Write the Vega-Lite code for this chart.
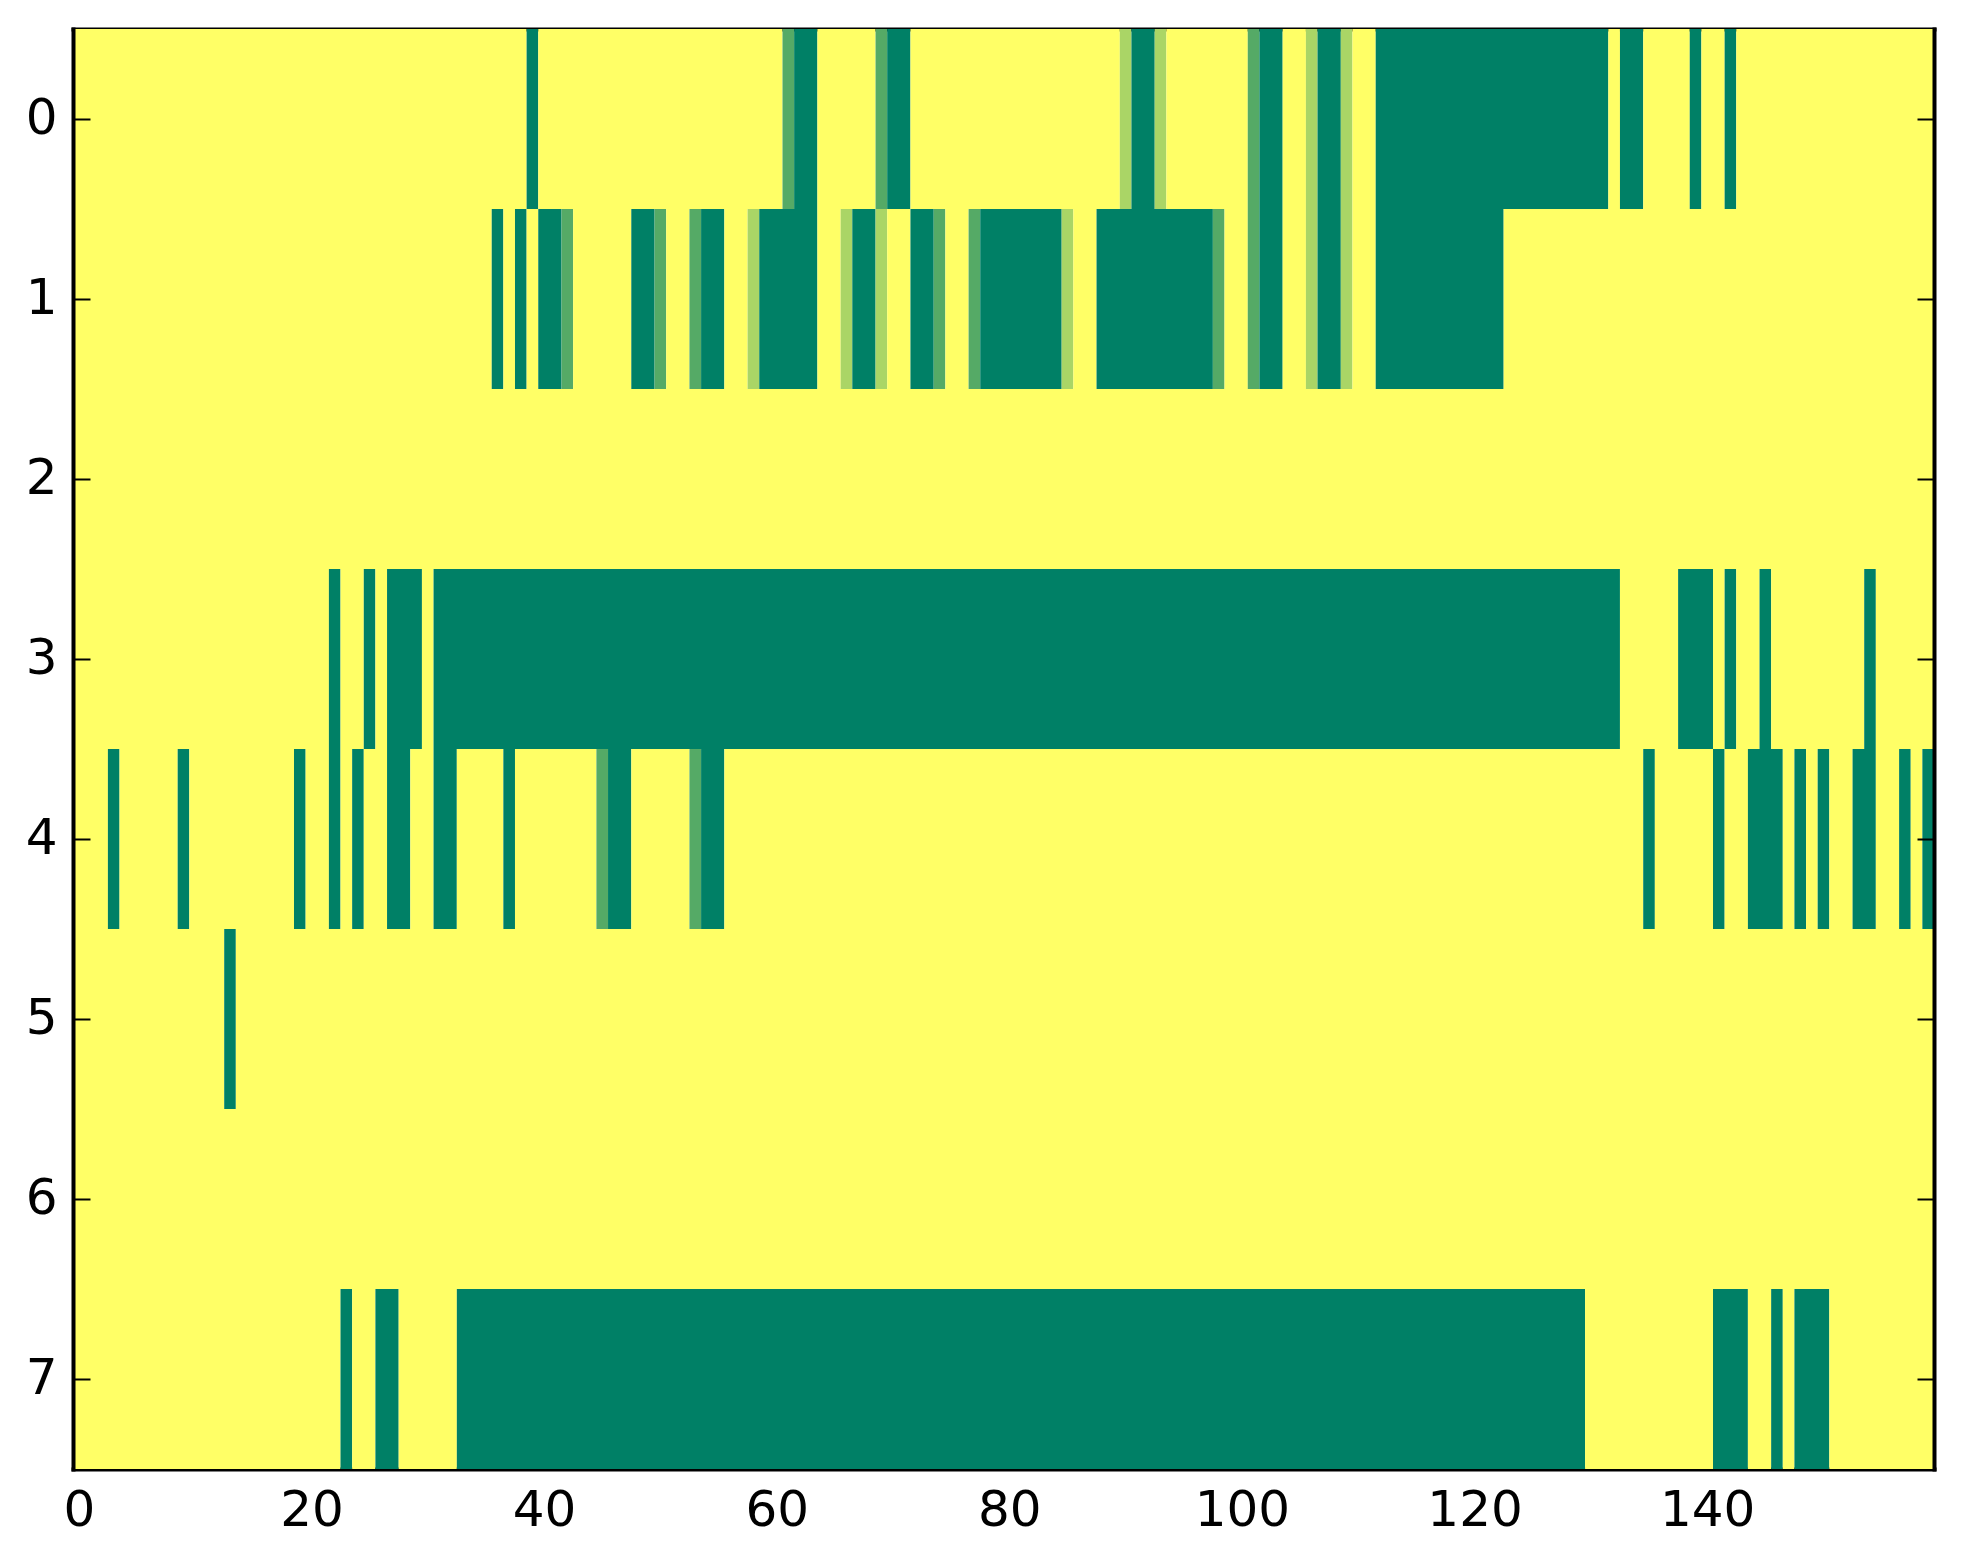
{
  "$schema": "https://vega.github.io/schema/vega-lite/v6.json",
  "width": 1861,
  "height": 1440,
  "autosize": {"type": "none"},
  "padding": {"left": 73, "top": 29, "right": 29, "bottom": 95},
  "background": "white",
  "config": {
    "view": {"stroke": null},
    "axis": {
      "domainColor": "black",
      "domainWidth": 4,
      "domainCap": "square",
      "tickColor": "black",
      "tickWidth": 2,
      "tickSize": -17,
      "labelFont": "DejaVu Sans",
      "labelFontSize": 50,
      "labelColor": "black",
      "labelPadding": 33,
      "labelFlush": false,
      "labelOverlap": false,
      "grid": false
    }
  },
  "data": {
    "values": [
      {"row": 0, "x0": -0.5, "x1": 38.5, "value": 1},
      {"row": 0, "x0": 38.5, "x1": 39.5, "value": 0},
      {"row": 0, "x0": 39.5, "x1": 60.5, "value": 1},
      {"row": 0, "x0": 60.5, "x1": 61.5, "value": 0.333},
      {"row": 0, "x0": 61.5, "x1": 63.5, "value": 0},
      {"row": 0, "x0": 63.5, "x1": 68.5, "value": 1},
      {"row": 0, "x0": 68.5, "x1": 69.5, "value": 0.333},
      {"row": 0, "x0": 69.5, "x1": 71.5, "value": 0},
      {"row": 0, "x0": 71.5, "x1": 89.5, "value": 1},
      {"row": 0, "x0": 89.5, "x1": 90.5, "value": 0.667},
      {"row": 0, "x0": 90.5, "x1": 92.5, "value": 0},
      {"row": 0, "x0": 92.5, "x1": 93.5, "value": 0.667},
      {"row": 0, "x0": 93.5, "x1": 100.5, "value": 1},
      {"row": 0, "x0": 100.5, "x1": 101.5, "value": 0.333},
      {"row": 0, "x0": 101.5, "x1": 103.5, "value": 0},
      {"row": 0, "x0": 103.5, "x1": 105.5, "value": 1},
      {"row": 0, "x0": 105.5, "x1": 106.5, "value": 0.667},
      {"row": 0, "x0": 106.5, "x1": 108.5, "value": 0},
      {"row": 0, "x0": 108.5, "x1": 109.5, "value": 0.667},
      {"row": 0, "x0": 109.5, "x1": 111.5, "value": 1},
      {"row": 0, "x0": 111.5, "x1": 131.5, "value": 0},
      {"row": 0, "x0": 131.5, "x1": 132.5, "value": 1},
      {"row": 0, "x0": 132.5, "x1": 134.5, "value": 0},
      {"row": 0, "x0": 134.5, "x1": 138.5, "value": 1},
      {"row": 0, "x0": 138.5, "x1": 139.5, "value": 0},
      {"row": 0, "x0": 139.5, "x1": 141.5, "value": 1},
      {"row": 0, "x0": 141.5, "x1": 142.5, "value": 0},
      {"row": 0, "x0": 142.5, "x1": 159.5, "value": 1},

      {"row": 1, "x0": -0.5, "x1": 35.5, "value": 1},
      {"row": 1, "x0": 35.5, "x1": 36.5, "value": 0},
      {"row": 1, "x0": 36.5, "x1": 37.5, "value": 1},
      {"row": 1, "x0": 37.5, "x1": 38.5, "value": 0},
      {"row": 1, "x0": 38.5, "x1": 39.5, "value": 1},
      {"row": 1, "x0": 39.5, "x1": 41.5, "value": 0},
      {"row": 1, "x0": 41.5, "x1": 42.5, "value": 0.333},
      {"row": 1, "x0": 42.5, "x1": 47.5, "value": 1},
      {"row": 1, "x0": 47.5, "x1": 49.5, "value": 0},
      {"row": 1, "x0": 49.5, "x1": 50.5, "value": 0.333},
      {"row": 1, "x0": 50.5, "x1": 52.5, "value": 1},
      {"row": 1, "x0": 52.5, "x1": 53.5, "value": 0.333},
      {"row": 1, "x0": 53.5, "x1": 55.5, "value": 0},
      {"row": 1, "x0": 55.5, "x1": 57.5, "value": 1},
      {"row": 1, "x0": 57.5, "x1": 58.5, "value": 0.667},
      {"row": 1, "x0": 58.5, "x1": 63.5, "value": 0},
      {"row": 1, "x0": 63.5, "x1": 65.5, "value": 1},
      {"row": 1, "x0": 65.5, "x1": 66.5, "value": 0.667},
      {"row": 1, "x0": 66.5, "x1": 68.5, "value": 0},
      {"row": 1, "x0": 68.5, "x1": 69.5, "value": 0.667},
      {"row": 1, "x0": 69.5, "x1": 71.5, "value": 1},
      {"row": 1, "x0": 71.5, "x1": 73.5, "value": 0},
      {"row": 1, "x0": 73.5, "x1": 74.5, "value": 0.333},
      {"row": 1, "x0": 74.5, "x1": 76.5, "value": 1},
      {"row": 1, "x0": 76.5, "x1": 77.5, "value": 0.333},
      {"row": 1, "x0": 77.5, "x1": 84.5, "value": 0},
      {"row": 1, "x0": 84.5, "x1": 85.5, "value": 0.667},
      {"row": 1, "x0": 85.5, "x1": 87.5, "value": 1},
      {"row": 1, "x0": 87.5, "x1": 97.5, "value": 0},
      {"row": 1, "x0": 97.5, "x1": 98.5, "value": 0.333},
      {"row": 1, "x0": 98.5, "x1": 100.5, "value": 1},
      {"row": 1, "x0": 100.5, "x1": 101.5, "value": 0.333},
      {"row": 1, "x0": 101.5, "x1": 103.5, "value": 0},
      {"row": 1, "x0": 103.5, "x1": 105.5, "value": 1},
      {"row": 1, "x0": 105.5, "x1": 106.5, "value": 0.667},
      {"row": 1, "x0": 106.5, "x1": 108.5, "value": 0},
      {"row": 1, "x0": 108.5, "x1": 109.5, "value": 0.667},
      {"row": 1, "x0": 109.5, "x1": 111.5, "value": 1},
      {"row": 1, "x0": 111.5, "x1": 122.5, "value": 0},
      {"row": 1, "x0": 122.5, "x1": 159.5, "value": 1},

      {"row": 2, "x0": -0.5, "x1": 159.5, "value": 1},

      {"row": 3, "x0": -0.5, "x1": 21.5, "value": 1},
      {"row": 3, "x0": 21.5, "x1": 22.5, "value": 0},
      {"row": 3, "x0": 22.5, "x1": 24.5, "value": 1},
      {"row": 3, "x0": 24.5, "x1": 25.5, "value": 0},
      {"row": 3, "x0": 25.5, "x1": 26.5, "value": 1},
      {"row": 3, "x0": 26.5, "x1": 29.5, "value": 0},
      {"row": 3, "x0": 29.5, "x1": 30.5, "value": 1},
      {"row": 3, "x0": 30.5, "x1": 132.5, "value": 0},
      {"row": 3, "x0": 132.5, "x1": 137.5, "value": 1},
      {"row": 3, "x0": 137.5, "x1": 140.5, "value": 0},
      {"row": 3, "x0": 140.5, "x1": 141.5, "value": 1},
      {"row": 3, "x0": 141.5, "x1": 142.5, "value": 0},
      {"row": 3, "x0": 142.5, "x1": 144.5, "value": 1},
      {"row": 3, "x0": 144.5, "x1": 145.5, "value": 0},
      {"row": 3, "x0": 145.5, "x1": 153.5, "value": 1},
      {"row": 3, "x0": 153.5, "x1": 154.5, "value": 0},
      {"row": 3, "x0": 154.5, "x1": 159.5, "value": 1},

      {"row": 4, "x0": -0.5, "x1": 2.5, "value": 1},
      {"row": 4, "x0": 2.5, "x1": 3.5, "value": 0},
      {"row": 4, "x0": 3.5, "x1": 8.5, "value": 1},
      {"row": 4, "x0": 8.5, "x1": 9.5, "value": 0},
      {"row": 4, "x0": 9.5, "x1": 18.5, "value": 1},
      {"row": 4, "x0": 18.5, "x1": 19.5, "value": 0},
      {"row": 4, "x0": 19.5, "x1": 21.5, "value": 1},
      {"row": 4, "x0": 21.5, "x1": 22.5, "value": 0},
      {"row": 4, "x0": 22.5, "x1": 23.5, "value": 1},
      {"row": 4, "x0": 23.5, "x1": 24.5, "value": 0},
      {"row": 4, "x0": 24.5, "x1": 26.5, "value": 1},
      {"row": 4, "x0": 26.5, "x1": 28.5, "value": 0},
      {"row": 4, "x0": 28.5, "x1": 30.5, "value": 1},
      {"row": 4, "x0": 30.5, "x1": 32.5, "value": 0},
      {"row": 4, "x0": 32.5, "x1": 36.5, "value": 1},
      {"row": 4, "x0": 36.5, "x1": 37.5, "value": 0},
      {"row": 4, "x0": 37.5, "x1": 44.5, "value": 1},
      {"row": 4, "x0": 44.5, "x1": 45.5, "value": 0.333},
      {"row": 4, "x0": 45.5, "x1": 47.5, "value": 0},
      {"row": 4, "x0": 47.5, "x1": 52.5, "value": 1},
      {"row": 4, "x0": 52.5, "x1": 53.5, "value": 0.333},
      {"row": 4, "x0": 53.5, "x1": 55.5, "value": 0},
      {"row": 4, "x0": 55.5, "x1": 134.5, "value": 1},
      {"row": 4, "x0": 134.5, "x1": 135.5, "value": 0},
      {"row": 4, "x0": 135.5, "x1": 140.5, "value": 1},
      {"row": 4, "x0": 140.5, "x1": 141.5, "value": 0},
      {"row": 4, "x0": 141.5, "x1": 143.5, "value": 1},
      {"row": 4, "x0": 143.5, "x1": 146.5, "value": 0},
      {"row": 4, "x0": 146.5, "x1": 147.5, "value": 1},
      {"row": 4, "x0": 147.5, "x1": 148.5, "value": 0},
      {"row": 4, "x0": 148.5, "x1": 149.5, "value": 1},
      {"row": 4, "x0": 149.5, "x1": 150.5, "value": 0},
      {"row": 4, "x0": 150.5, "x1": 152.5, "value": 1},
      {"row": 4, "x0": 152.5, "x1": 154.5, "value": 0},
      {"row": 4, "x0": 154.5, "x1": 156.5, "value": 1},
      {"row": 4, "x0": 156.5, "x1": 157.5, "value": 0},
      {"row": 4, "x0": 157.5, "x1": 158.5, "value": 1},
      {"row": 4, "x0": 158.5, "x1": 159.5, "value": 0},

      {"row": 5, "x0": -0.5, "x1": 12.5, "value": 1},
      {"row": 5, "x0": 12.5, "x1": 13.5, "value": 0},
      {"row": 5, "x0": 13.5, "x1": 159.5, "value": 1},

      {"row": 6, "x0": -0.5, "x1": 159.5, "value": 1},

      {"row": 7, "x0": -0.5, "x1": 22.5, "value": 1},
      {"row": 7, "x0": 22.5, "x1": 23.5, "value": 0},
      {"row": 7, "x0": 23.5, "x1": 25.5, "value": 1},
      {"row": 7, "x0": 25.5, "x1": 27.5, "value": 0},
      {"row": 7, "x0": 27.5, "x1": 32.5, "value": 1},
      {"row": 7, "x0": 32.5, "x1": 129.5, "value": 0},
      {"row": 7, "x0": 129.5, "x1": 140.5, "value": 1},
      {"row": 7, "x0": 140.5, "x1": 143.5, "value": 0},
      {"row": 7, "x0": 143.5, "x1": 145.5, "value": 1},
      {"row": 7, "x0": 145.5, "x1": 146.5, "value": 0},
      {"row": 7, "x0": 146.5, "x1": 147.5, "value": 1},
      {"row": 7, "x0": 147.5, "x1": 150.5, "value": 0},
      {"row": 7, "x0": 150.5, "x1": 159.5, "value": 1}
    ]
  },
  "layer": [
    {
      "mark": {"type": "rect", "strokeWidth": 0},
      "encoding": {
        "x": {
          "field": "x0",
          "type": "quantitative",
          "scale": {"domain": [-0.5, 159.5], "nice": false, "zero": false},
          "axis": {"orient": "bottom", "title": null, "values": [0, 20, 40, 60, 80, 100, 120, 140]}
        },
        "x2": {"field": "x1"},
        "y": {
          "field": "row",
          "type": "ordinal",
          "scale": {"domain": [0, 1, 2, 3, 4, 5, 6, 7], "paddingInner": 0, "paddingOuter": 0},
          "axis": {"orient": "left", "title": null, "labelAngle": 0}
        },
        "color": {
          "field": "value",
          "type": "quantitative",
          "scale": {"domain": [0, 1], "range": ["#008066", "#ffff66"], "interpolate": "rgb"},
          "legend": null
        }
      }
    },
    {
      "mark": {"type": "rect", "opacity": 0},
      "encoding": {
        "x": {
          "field": "x0",
          "type": "quantitative",
          "axis": {"orient": "top", "title": null, "labels": false, "values": [0, 20, 40, 60, 80, 100, 120, 140]}
        },
        "x2": {"field": "x1"},
        "y": {
          "field": "row",
          "type": "ordinal",
          "axis": {"orient": "right", "title": null, "labels": false}
        }
      }
    }
  ],
  "resolve": {"axis": {"x": "independent", "y": "independent"}}
}
